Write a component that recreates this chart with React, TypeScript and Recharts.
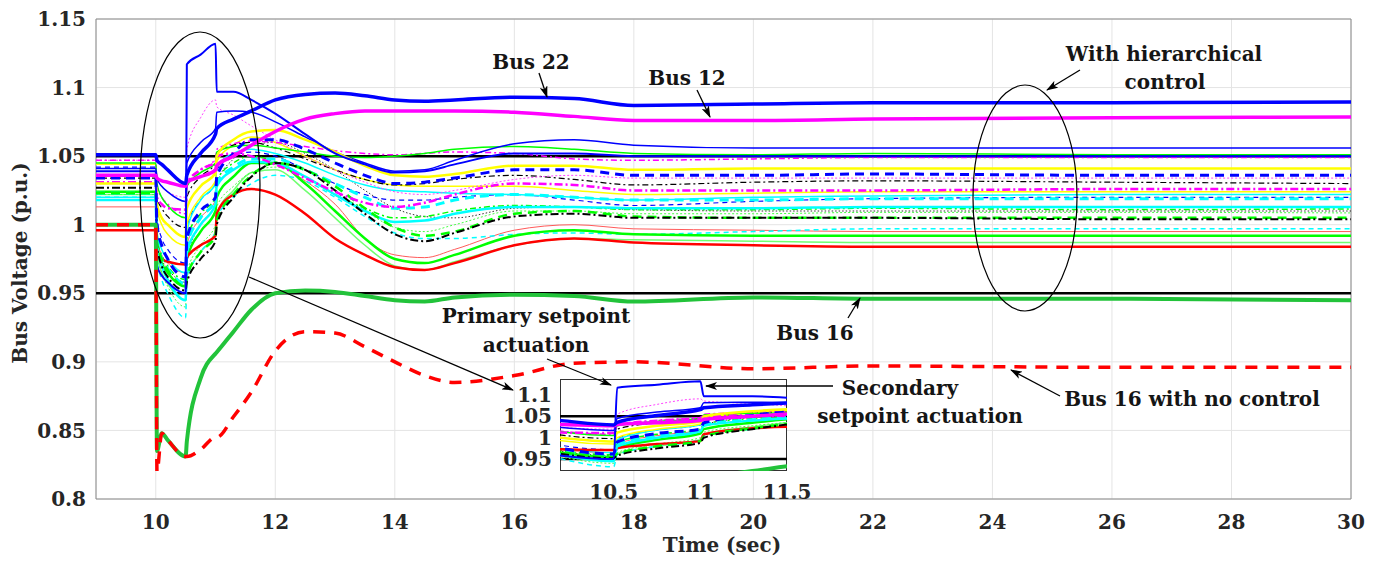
import React from 'react';
import { LineChart, Line, XAxis, YAxis, CartesianGrid, ReferenceLine, ReferenceArea } from 'recharts';

const FONT = "'DejaVu Serif', serif";
const TEXT = '#262626';

// time base (sec), shared by every bus trace
const time = [9, 10, 10.02, 10.1, 10.2, 10.5, 10.52, 10.75, 11, 11.02, 11.3, 11.6, 12, 12.5, 13, 13.5, 14, 14.5, 15, 16, 17, 18, 20, 22, 26, 30];

const xTicks = [10, 12, 14, 16, 18, 20, 22, 24, 26, 28, 30];
const yTicks = [0.8, 0.85, 0.9, 0.95, 1, 1.05, 1.1, 1.15];
const yTickLabels = ['0.8', '0.85', '0.9', '0.95', '1', '1.05', '1.1', '1.15'];
const insetXTicks = [10.5, 11, 11.5];
const insetYTicks = [0.95, 1, 1.05, 1.1];
const insetYTickLabels = ['0.95', '1', '1.05', '1.1'];

const upperLimit = 1.05;
const lowerLimit = 0.95;

// bus voltages (p.u.)
const bus22 = [1.051, 1.051, 1.047, 1.044, 1.04, 1.03, 1.036, 1.052, 1.066, 1.07, 1.077, 1.083, 1.091, 1.095, 1.096, 1.094, 1.091, 1.09, 1.091, 1.093, 1.092, 1.087, 1.088, 1.089, 1.089, 1.0895];
const bus12 = [1.036, 1.036, 1.034, 1.032, 1.031, 1.028, 1.031, 1.035, 1.04, 1.043, 1.05, 1.058, 1.068, 1.077, 1.081, 1.083, 1.083, 1.083, 1.083, 1.082, 1.079, 1.076, 1.076, 1.077, 1.078, 1.0785];
const bSpike = [1.039, 1.039, 0.97, 0.963, 0.958, 0.95, 1.117, 1.124, 1.132, 1.097, 1.097, 1.091, 1.081, 1.066, 1.052, 1.044, 1.038, 1.039, 1.044, 1.052, 1.052, 1.05, 1.05, 1.05, 1.05, 1.05];
const bThin = [1.041, 1.041, 1.034, 1.028, 1.024, 1.017, 1.045, 1.06, 1.07, 1.082, 1.083, 1.082, 1.075, 1.064, 1.053, 1.045, 1.039, 1.04, 1.047, 1.059, 1.062, 1.058, 1.056, 1.056, 1.056, 1.056];
const gThin = [1.045, 1.045, 1.03, 1.02, 1.014, 1.005, 1.028, 1.038, 1.045, 1.053, 1.057, 1.058, 1.056, 1.053, 1.05, 1.049, 1.05, 1.052, 1.055, 1.057, 1.055, 1.052, 1.051, 1.052, 1.051, 1.051];
const mDD = [1.047, 1.047, 1.028, 1.02, 1.015, 1.008, 1.028, 1.04, 1.048, 1.055, 1.059, 1.061, 1.06, 1.057, 1.054, 1.052, 1.051, 1.052, 1.053, 1.052, 1.048, 1.047, 1.048, 1.049, 1.049, 1.049];
const yThick = [1.03, 1.03, 1.015, 1.005, 1.0, 0.991, 1.012, 1.028, 1.038, 1.05, 1.062, 1.068, 1.069, 1.062, 1.053, 1.043, 1.036, 1.035, 1.037, 1.043, 1.043, 1.04, 1.041, 1.041, 1.041, 1.041];
const bDash = [1.034, 1.034, 1.0, 0.985, 0.975, 0.962, 0.99, 1.01, 1.02, 1.035, 1.052, 1.062, 1.062, 1.055, 1.045, 1.036, 1.03, 1.031, 1.034, 1.04, 1.04, 1.036, 1.036, 1.037, 1.036, 1.036];
const mDot = [1.047, 1.047, 1.035, 1.028, 1.024, 1.02, 1.055, 1.078, 1.091, 1.086, 1.08, 1.072, 1.062, 1.05, 1.04, 1.031, 1.024, 1.022, 1.025, 1.033, 1.036, 1.034, 1.034, 1.034, 1.034, 1.034];
const kDD = [1.034, 1.034, 1.02, 1.012, 1.006, 0.998, 1.02, 1.035, 1.045, 1.052, 1.058, 1.06, 1.056, 1.048, 1.04, 1.033, 1.029, 1.03, 1.033, 1.036, 1.033, 1.029, 1.031, 1.032, 1.031, 1.03];
const mDDThick = [1.031, 1.031, 1.02, 1.015, 1.012, 1.011, 1.03, 1.04, 1.046, 1.05, 1.052, 1.05, 1.044, 1.034, 1.024, 1.016, 1.013, 1.016, 1.022, 1.03, 1.029, 1.025, 1.025, 1.025, 1.026, 1.026];
const yThin = [1.044, 1.044, 1.012, 1.0, 0.993, 0.985, 1.0, 1.02, 1.032, 1.046, 1.058, 1.064, 1.06, 1.05, 1.04, 1.033, 1.029, 1.028, 1.028, 1.028, 1.025, 1.022, 1.023, 1.024, 1.024, 1.024];
const cThin = [1.02, 1.02, 0.995, 0.982, 0.975, 0.965, 0.995, 1.018, 1.03, 1.042, 1.052, 1.055, 1.052, 1.045, 1.036, 1.029, 1.025, 1.024, 1.023, 1.022, 1.02, 1.018, 1.02, 1.021, 1.022, 1.022];
const bDashThin = [1.042, 1.042, 1.005, 0.99, 0.982, 0.972, 0.998, 1.018, 1.03, 1.04, 1.05, 1.053, 1.05, 1.04, 1.03, 1.022, 1.018, 1.018, 1.02, 1.022, 1.018, 1.014, 1.017, 1.019, 1.02, 1.02];
const cDashThick = [1.023, 1.023, 0.99, 0.975, 0.968, 0.957, 0.985, 1.005, 1.018, 1.03, 1.042, 1.048, 1.048, 1.04, 1.03, 1.02, 1.012, 1.013, 1.018, 1.022, 1.02, 1.018, 1.018, 1.019, 1.019, 1.019];
const cThick = [1.018, 1.018, 0.985, 0.97, 0.96, 0.945, 0.98, 1.0, 1.015, 1.028, 1.04, 1.046, 1.045, 1.035, 1.022, 1.01, 1.002, 1.003, 1.008, 1.013, 1.013, 1.012, 1.012, 1.013, 1.013, 1.013];
const gDD = [1.024, 1.024, 0.99, 0.978, 0.97, 0.96, 0.99, 1.008, 1.02, 1.032, 1.045, 1.05, 1.046, 1.035, 1.022, 1.012, 1.005, 1.006, 1.01, 1.014, 1.013, 1.011, 1.011, 1.012, 1.011, 1.0115];
const gDot = [1.022, 1.022, 0.98, 0.965, 0.955, 0.94, 0.965, 0.985, 1.0, 1.013, 1.028, 1.038, 1.042, 1.035, 1.022, 1.01, 0.998, 0.995, 1.0, 1.01, 1.01, 1.008, 1.008, 1.009, 1.009, 1.0086];
const kDDThick = [1.027, 1.027, 0.985, 0.97, 0.962, 0.952, 0.958, 0.975, 0.988, 1.0, 1.02, 1.035, 1.045, 1.04, 1.025, 1.008, 0.993, 0.988, 0.994, 1.006, 1.008, 1.005, 1.005, 1.005, 1.004, 1.004];
const gDashThick = [1.023, 1.023, 0.988, 0.975, 0.967, 0.955, 0.962, 0.98, 0.992, 1.003, 1.022, 1.036, 1.045, 1.04, 1.028, 1.012, 0.998, 0.992, 0.995, 1.008, 1.01, 1.006, 1.005, 1.005, 1.005, 1.005];
const rThin = [1.013, 1.013, 0.99, 0.978, 0.972, 0.965, 0.985, 1.005, 1.018, 1.028, 1.04, 1.046, 1.044, 1.032, 1.015, 0.99, 0.978, 0.976, 0.982, 0.996, 1.0, 0.997, 0.996, 0.995, 0.995, 0.995];
const cDashThin = [1.02, 1.02, 0.975, 0.96, 0.95, 0.932, 0.96, 0.98, 0.995, 1.005, 1.02, 1.03, 1.036, 1.032, 1.02, 1.006, 0.994, 0.99, 0.99, 0.993, 0.994, 0.993, 0.995, 0.997, 0.997, 0.997];
const gSolid = [1.024, 1.024, 0.985, 0.972, 0.965, 0.955, 0.975, 0.995, 1.01, 1.02, 1.035, 1.045, 1.045, 1.03, 1.01, 0.99, 0.975, 0.972, 0.978, 0.992, 0.996, 0.993, 0.992, 0.992, 0.992, 0.992];
const gLight = [1.022, 1.022, 0.98, 0.965, 0.957, 0.945, 0.962, 0.98, 0.995, 1.008, 1.025, 1.038, 1.04, 1.025, 1.005, 0.985, 0.97, 0.967, 0.973, 0.985, 0.99, 0.989, 0.988, 0.987, 0.987, 0.987];
const rThick = [0.996, 0.996, 0.978, 0.975, 0.973, 0.971, 0.976, 0.985, 0.992, 1.008, 1.022, 1.026, 1.022, 1.008, 0.99, 0.978, 0.969, 0.967, 0.972, 0.985, 0.99, 0.987, 0.985, 0.984, 0.984, 0.984];
const kDot = [1.03, 1.03, 0.99, 0.975, 0.968, 0.958, 0.975, 1.0, 1.015, 1.03, 1.048, 1.058, 1.06, 1.052, 1.04, 1.025, 1.012, 1.006, 1.005, 1.012, 1.013, 1.011, 1.01, 1.01, 1.01, 1.01];
const bus16 = [1.0, 1.0, 0.835, 0.848, 0.843, 0.831, 0.842, 0.888, 0.906, 0.907, 0.922, 0.938, 0.95, 0.952, 0.951, 0.948, 0.945, 0.944, 0.947, 0.949, 0.948, 0.944, 0.947, 0.946, 0.946, 0.945];
const bus16NoControl = [1.0, 1.0, 0.82, 0.848, 0.843, 0.831, 0.831, 0.836, 0.845, 0.845, 0.86, 0.878, 0.908, 0.922, 0.921, 0.911, 0.9, 0.89, 0.885, 0.89, 0.899, 0.9, 0.895, 0.897, 0.896, 0.896];

type Series = { key: string; values: number[]; color: string; width: number; dash?: string };

const series: Series[] = [
  { key: 'kDot', values: kDot, color: '#000000', width: 0.8, dash: '1.5 2' },
  { key: 'rThin', values: rThin, color: '#ff5a5a', width: 1 },
  { key: 'gLight', values: gLight, color: '#70ff70', width: 1.5 },
  { key: 'gDot', values: gDot, color: '#44ff44', width: 1, dash: '2 2' },
  { key: 'cDashThin', values: cDashThin, color: '#00ffff', width: 1.5, dash: '5 4' },
  { key: 'bDashThin', values: bDashThin, color: '#0000ff', width: 1.2, dash: '5 4' },
  { key: 'cThin', values: cThin, color: '#00ffff', width: 1.5 },
  { key: 'yThin', values: yThin, color: '#ffff00', width: 1.5 },
  { key: 'gDD', values: gDD, color: '#00ff00', width: 1.5, dash: '6 3 2 3' },
  { key: 'kDD', values: kDD, color: '#000000', width: 1.2, dash: '6 3 2 3' },
  { key: 'mDot', values: mDot, color: '#ff44ff', width: 1, dash: '2 2' },
  { key: 'mDD', values: mDD, color: '#ff00ff', width: 1.5, dash: '6 3 2 3' },
  { key: 'gThin', values: gThin, color: '#00ff00', width: 1.5 },
  { key: 'bThin', values: bThin, color: '#0000ff', width: 1.5 },
  { key: 'gSolid', values: gSolid, color: '#00ff00', width: 2.5 },
  { key: 'rThick', values: rThick, color: '#ff0000', width: 2.5 },
  { key: 'cThick', values: cThick, color: '#00ffff', width: 2.5 },
  { key: 'cDashThick', values: cDashThick, color: '#00ffff', width: 3, dash: '9 6' },
  { key: 'gDashThick', values: gDashThick, color: '#00ff00', width: 2.5, dash: '9 6' },
  { key: 'kDDThick', values: kDDThick, color: '#000000', width: 2, dash: '8 3 2 3' },
  { key: 'mDDThick', values: mDDThick, color: '#ff00ff', width: 2.5, dash: '8 3 2 3' },
  { key: 'yThick', values: yThick, color: '#ffff00', width: 2.5 },
  { key: 'bDash', values: bDash, color: '#0000ff', width: 3, dash: '9 6' },
  { key: 'bSpike', values: bSpike, color: '#0000ff', width: 2 },
  { key: 'bus12', values: bus12, color: '#ff00ff', width: 3.5 },
  { key: 'bus22', values: bus22, color: '#0000ff', width: 3.5 },
  { key: 'bus16', values: bus16, color: '#22c33a', width: 4 },
  { key: 'bus16NoControl', values: bus16NoControl, color: '#ff0000', width: 3.5, dash: '12 9' },
];

const rows = time.map((t, i) => {
  const row: Record<string, number> = { t };
  series.forEach((s) => {
    row[s.key] = s.values[i];
  });
  return row;
});

const tickStyle = { fontSize: 20, fill: TEXT, fontWeight: 'bold' as const, fontFamily: FONT };

const renderLines = () =>
  series.map((s) => (
    <Line
      key={s.key}
      dataKey={s.key}
      type="monotone"
      stroke={s.color}
      strokeWidth={s.width}
      strokeDasharray={s.dash}
      dot={false}
      activeDot={false}
      isAnimationActive={false}
    />
  ));

const Arrow = ({ x1, y1, x2, y2 }: { x1: number; y1: number; x2: number; y2: number }) => (
  <line x1={x1} y1={y1} x2={x2} y2={y2} stroke="#000" strokeWidth={1.3} markerEnd="url(#head)" />
);

const Label = ({ x, y, children }: { x: number; y: number; children: React.ReactNode }) => (
  <text x={x} y={y} textAnchor="middle" fontSize={20} fontWeight="bold" fill="#151515" fontFamily={FONT}>
    {children}
  </text>
);

export default function App() {
  return (
    <div style={{ position: 'fixed', left: 0, top: 0, width: 1390, height: 567, background: '#fff', fontFamily: FONT }}>
      <div style={{ position: 'absolute', left: 0, top: 0 }}>
        <LineChart width={1390} height={567} data={rows} margin={{ top: 19, right: 39, left: 0, bottom: 0 }}>
          <CartesianGrid stroke="#e4e4e4" />
          <XAxis
            dataKey="t"
            type="number"
            domain={[9, 30]}
            ticks={xTicks}
            interval={0}
            height={68}
            tickLine={false}
            axisLine={false}
            tickMargin={10}
            tick={tickStyle}
          />
          <YAxis
            type="number"
            domain={[0.8, 1.15]}
            ticks={yTicks}
            interval={0}
            width={96}
            tickLine={false}
            axisLine={false}
            tickMargin={4}
            tick={tickStyle}
            tickFormatter={(v: number) => yTickLabels[yTicks.indexOf(v)] ?? String(v)}
          />
          <ReferenceArea x1={9} x2={30} y1={0.8} y2={1.15} fill="none" stroke="#8a8a8a" strokeWidth={1} />
          <ReferenceLine y={upperLimit} stroke="#000" strokeWidth={2.5} />
          <ReferenceLine y={lowerLimit} stroke="#000" strokeWidth={2.5} />
          {renderLines()}
        </LineChart>
      </div>

      <div
        style={{
          position: 'absolute',
          left: 560,
          top: 379,
          width: 227,
          height: 92,
          background: '#fff',
          border: '1px solid #333',
          boxSizing: 'border-box',
        }}
      />
      <div style={{ position: 'absolute', left: 500, top: 379 }}>
        <LineChart width={317} height={124} data={rows} margin={{ top: 0, right: 30, left: 0, bottom: 0 }}>
          <XAxis
            dataKey="t"
            type="number"
            domain={[10.19, 11.5]}
            allowDataOverflow
            ticks={insetXTicks}
            interval={0}
            height={32}
            tickLine={false}
            axisLine={false}
            tickMargin={8}
            tick={tickStyle}
          />
          <YAxis
            type="number"
            domain={[0.922, 1.1375]}
            allowDataOverflow
            ticks={insetYTicks}
            interval={0}
            width={60}
            tickLine={false}
            axisLine={false}
            tickMargin={2}
            tick={tickStyle}
            tickFormatter={(v: number) => insetYTickLabels[insetYTicks.indexOf(v)] ?? String(v)}
          />
          <ReferenceLine y={upperLimit} stroke="#000" strokeWidth={2.5} />
          <ReferenceLine y={lowerLimit} stroke="#000" strokeWidth={2.5} />
          {renderLines()}
        </LineChart>
      </div>

      <svg width={1390} height={567} style={{ position: 'absolute', left: 0, top: 0, pointerEvents: 'none' }}>
        <defs>
          <marker id="head" viewBox="0 0 12 8" refX="11" refY="4" markerWidth="12" markerHeight="8" markerUnits="userSpaceOnUse" orient="auto">
            <path d="M0,0 L12,4 L0,8 L3,4 z" fill="#000" />
          </marker>
        </defs>
        <ellipse cx={200} cy={185} rx={60} ry={153} fill="none" stroke="#000" strokeWidth={1.2} />
        <ellipse cx={1025} cy={198} rx={52} ry={113} fill="none" stroke="#000" strokeWidth={1.2} />

        <Arrow x1={249} y1={277} x2={513} y2={390} />
        <Arrow x1={547} y1={359} x2={611} y2={385} />
        <Arrow x1={833} y1={386} x2={706} y2={386} />
        <Arrow x1={1060} y1={396} x2={1011} y2={370} />
        <Arrow x1={848} y1={318} x2={860} y2={298} />
        <Arrow x1={539} y1={73} x2={547} y2={97} />
        <Arrow x1={697} y1={90} x2={710} y2={117} />
        <Arrow x1={1080} y1={70} x2={1047} y2={90} />

        <Label x={531} y={69}>Bus 22</Label>
        <Label x={687} y={85}>Bus 12</Label>
        <Label x={1164} y={61}>With hierarchical</Label>
        <Label x={1165} y={89}>control</Label>
        <Label x={815} y={340}>Bus 16</Label>
        <Label x={536} y={323}>Primary setpoint</Label>
        <Label x={536} y={352}>actuation</Label>
        <Label x={900} y={395}>Secondary</Label>
        <Label x={920} y={423}>setpoint actuation</Label>
        <Label x={1192} y={406}>Bus 16 with no control</Label>

        <text x={722} y={552} textAnchor="middle" fontSize={20} fontWeight="bold" fill={TEXT} fontFamily={FONT}>
          Time (sec)
        </text>
        <text transform="translate(27,263) rotate(-90)" textAnchor="middle" fontSize={20} fontWeight="bold" fill={TEXT} fontFamily={FONT}>
          Bus Voltage (p.u.)
        </text>
      </svg>
    </div>
  );
}
